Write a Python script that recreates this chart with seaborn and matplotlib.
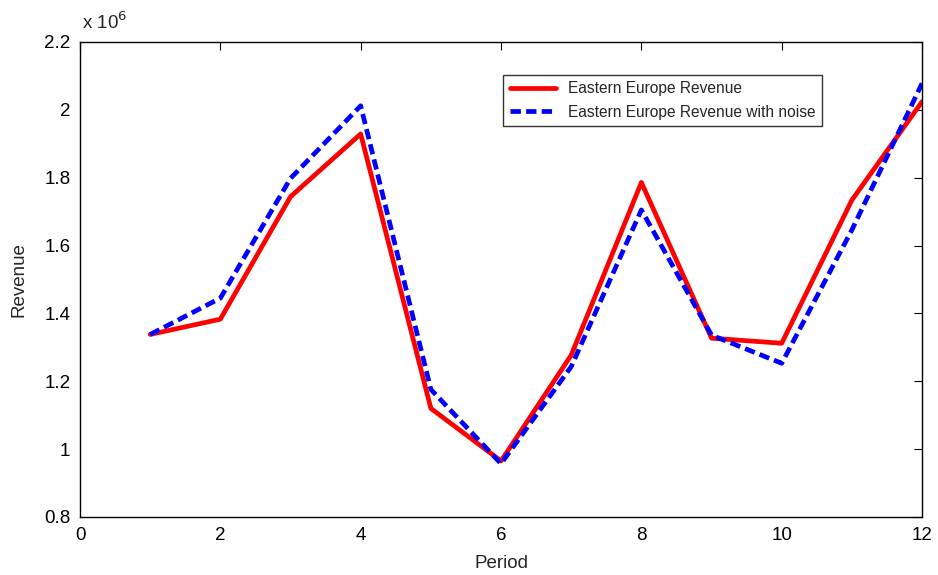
import matplotlib
matplotlib.use("Agg")
import matplotlib.pyplot as plt
import seaborn as sns
import pandas as pd

period = [1, 2, 3, 4, 5, 6, 7, 8, 9, 10, 11, 12]
revenue = [1.338, 1.383, 1.744, 1.929, 1.120, 0.965, 1.277, 1.786, 1.327, 1.312, 1.734, 2.024]
revenue_noise = [1.338, 1.445, 1.798, 2.012, 1.176, 0.957, 1.243, 1.705, 1.336, 1.253, 1.646, 2.078]
labels = ["Eastern Europe Revenue", "Eastern Europe Revenue with noise"]

sns.set_style("white")
plt.rcParams['font.family'] = ['Liberation Sans', 'DejaVu Sans']

df = pd.DataFrame({
    "Period": period * 2,
    "Revenue": [v * 1e6 for v in revenue] + [v * 1e6 for v in revenue_noise],
    "Series": [labels[0]] * len(period) + [labels[1]] * len(period),
})

fig = plt.figure(figsize=(9.38, 5.75), dpi=100)
ax = fig.add_axes([0.0853, 0.1009, 0.8977, 0.8261])

sns.lineplot(data=df, x="Period", y="Revenue", hue="Series", style="Series",
             palette={labels[0]: "#ff0000", labels[1]: "#0000ff"},
             dashes={labels[0]: "", labels[1]: (2.2, 1.1)},
             linewidth=3.4, ax=ax, legend=True)

ax.set_xlim(0, 12)
ax.set_ylim(0.8e6, 2.2e6)
ax.set_xticks([0, 2, 4, 6, 8, 10, 12])
ax.set_yticks([0.8e6, 1.0e6, 1.2e6, 1.4e6, 1.6e6, 1.8e6, 2.0e6, 2.2e6])
ax.set_yticklabels(["0.8", "1", "1.2", "1.4", "1.6", "1.8", "2", "2.2"])
ax.tick_params(direction="in", length=6, width=0.8, top=True, right=True,
               labelsize=13.5, colors="black", pad=7)
for s in ax.spines.values():
    s.set_visible(True)
    s.set_color("black")
    s.set_linewidth(1.0)
ax.set_xlabel("Period", fontsize=13.5, labelpad=8)
ax.set_ylabel("Revenue", fontsize=13.5, labelpad=12)
ax.text(0.002, 1.018, r"x 10$^{6}$", transform=ax.transAxes, fontsize=13.5, ha="left", va="bottom")

leg = ax.legend(loc="upper right", bbox_to_anchor=(0.881, 0.9305), borderaxespad=0,
                fontsize=11.2, frameon=True, fancybox=False, edgecolor="black",
                handlelength=3.0, handletextpad=0.75, borderpad=0.4, labelspacing=0.55)
leg.get_frame().set_linewidth(1.0)

fig.savefig("out.png", dpi=100)
